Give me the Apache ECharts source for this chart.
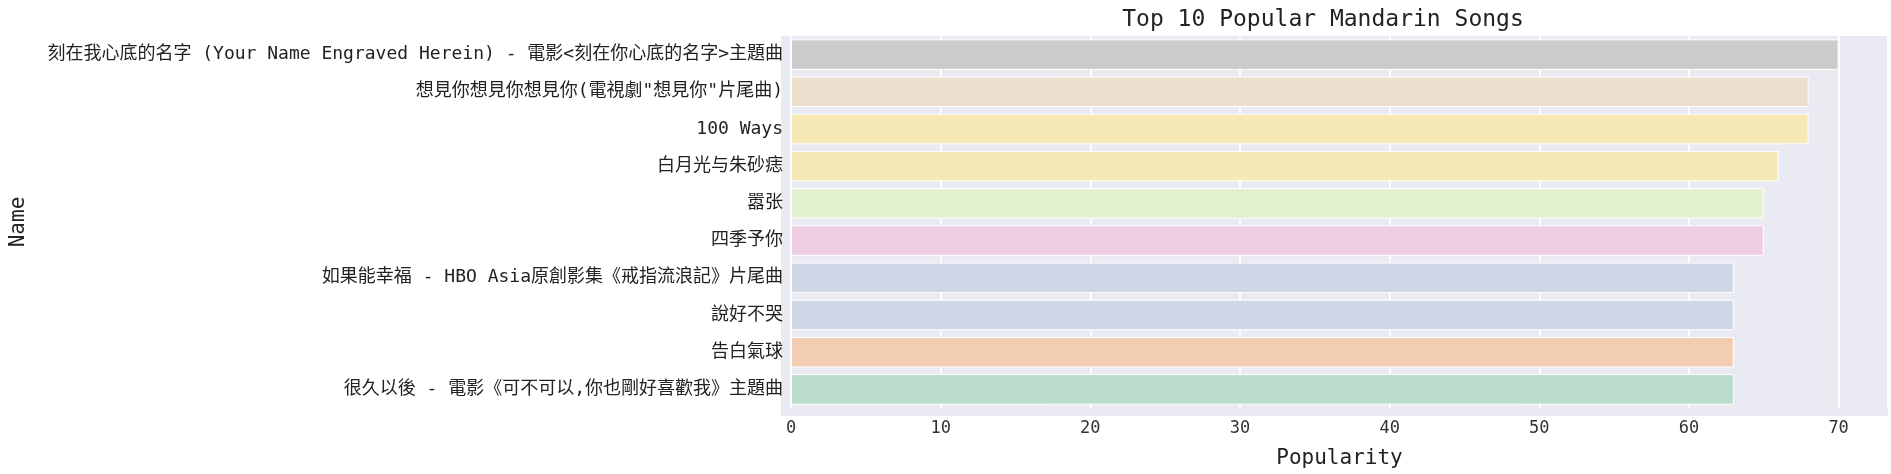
<!DOCTYPE html>
<html>
<head>
<meta charset="utf-8">
<script src="https://cdn.jsdelivr.net/npm/echarts@6/dist/echarts.min.js"></script>
<style>html,body{margin:0;padding:0;background:#fff}#c{width:1891px;height:474px}</style>
</head>
<body>
<div id="c"></div>
<script>
var names = [
    '刻在我心底的名字 (Your Name Engraved Herein) - 電影<刻在你心底的名字>主題曲',
    '想見你想見你想見你(電視劇"想見你"片尾曲)',
    '100 Ways',
    '白月光与朱砂痣',
    '嚣张',
    '四季予你',
    '如果能幸福 - HBO Asia原創影集《戒指流浪記》片尾曲',
    '說好不哭',
    '告白氣球',
    '很久以後 - 電影《可不可以,你也剛好喜歡我》主題曲'
];
var popularity = [70, 68, 68, 66, 65, 65, 63, 63, 63, 63];
var colors = ['#cbcbcb', '#eddfcd', '#f5eab5', '#f5eab5', '#e3f0cf',
              '#efcde3', '#cfd6e5', '#cfd6e5', '#f3cdb1', '#badccb'];

var font = "'DejaVu Sans Mono', 'Noto Sans CJK SC', monospace";
var myChart = echarts.init(document.getElementById('c'));
var option = {
    textStyle: {fontFamily: font},
    title: {
        text: 'Top 10 Popular Mandarin Songs',
        left: 1318, top: 4, textAlign: 'center',
        textStyle: {fontFamily: font, fontSize: 23, fontWeight: 'normal', color: '#222'}
    },
    grid: {left: 781, right: 3, top: 36, bottom: 58, containLabel: false},
    xAxis: {
        type: 'value', min: 0, max: 73.3, interval: 10,
        name: 'Popularity', nameLocation: 'middle', nameGap: 40,
        nameTextStyle: {fontFamily: font, fontSize: 21, color: '#222'},
        axisLine: {show: false}, axisTick: {show: false},
        axisLabel: {fontFamily: font, fontSize: 17, color: '#333', margin: 12, showMaxLabel: false},
        splitLine: {show: true, lineStyle: {color: '#fff', width: 1.8}}
    },
    yAxis: {
        type: 'category', inverse: true, data: names,
        name: 'Name', nameLocation: 'middle', nameGap: 762, nameRotate: 90,
        nameTextStyle: {fontFamily: font, fontSize: 21, color: '#222'},
        axisLine: {show: false}, axisTick: {show: false},
        axisLabel: {fontFamily: font, fontSize: 18, color: '#222', margin: 8},
        splitLine: {show: false}
    },
    series: [{
        type: 'bar',
        data: popularity.map(function (v, i) {
            return {value: v, itemStyle: {color: colors[i], borderColor: '#fff', borderWidth: 1}};
        }),
        barCategoryGap: '18%',
        silent: true
    }],
    graphic: [{
        type: 'rect', z: -1,
        shape: {x: 781, y: 36, width: 1107, height: 380},
        style: {fill: '#eaeaf2'}
    }]
};
myChart.setOption(option);
</script>
</body>
</html>
